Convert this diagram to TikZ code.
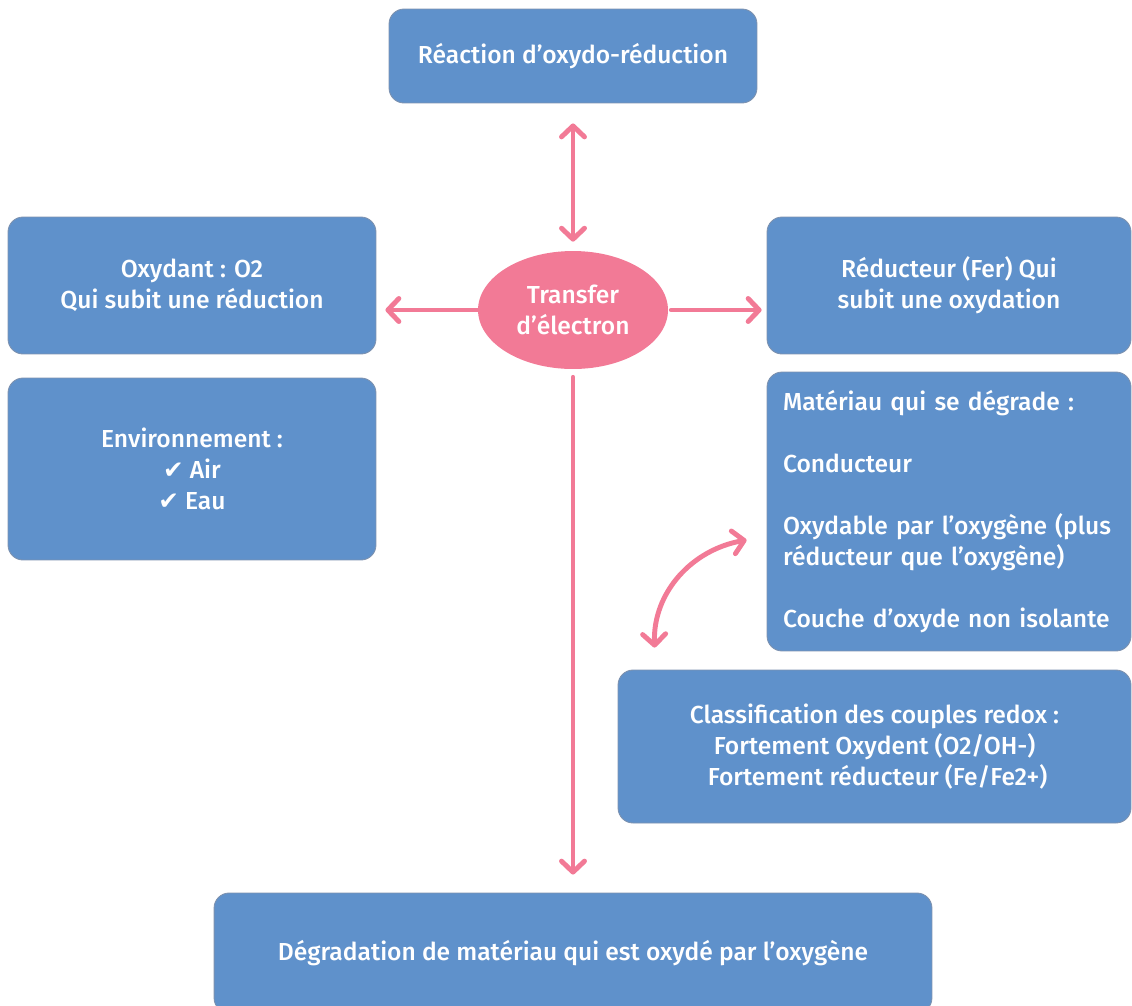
\documentclass[tikz,border=0pt]{standalone}
\usepackage{fontspec}
\IfFontExistsTF{Fira Sans Medium}{\setmainfont{Fira Sans Medium}}{\setmainfont{Fira Sans}}
\newfontfamily\checkfont{DejaVu Sans Bold}
\usetikzlibrary{arrows.meta,shapes.geometric}
\definecolor{boxblue}{RGB}{95,145,203}
\definecolor{boxline}{RGB}{125,145,175}
\definecolor{linkpink}{RGB}{242,122,150}
\newcommand{\chk}{{\checkfont ✔}}
\tikzset{
  box/.style={draw=boxline, line width=0.5pt, fill=boxblue, rounded corners=0.3cm,
    text=white, font=\fontsize{14}{17.6}\selectfont, align=center, inner sep=0pt},
  bubble/.style={ellipse, fill=linkpink, text=white, inner sep=0pt,
    font=\fontsize{14}{17.6}\selectfont, align=center},
  link/.style={draw=linkpink, line width=2.8pt, line cap=round},
  tip/.style={arrows={-Straight Barb[length=0.22cm,width=0.46cm,round]}},
  twotips/.style={arrows={Straight Barb[length=0.22cm,width=0.46cm,round]-Straight Barb[length=0.22cm,width=0.46cm,round]}}
}

\begin{document}
\begin{tikzpicture}[x=0.02cm,y=-0.02cm]
\useasboundingbox (0,0) rectangle (1132,1005);
\clip (0,0) rectangle (1132,1005);

\node[box, minimum width=7.36cm, minimum height=1.88cm] (reaction) at (573,56) {Réaction d’oxydo-réduction};
\node[bubble, minimum width=3.8cm, minimum height=2.36cm] (transfer) at (573,310) {Transfer\\d’électron};

\node[box, minimum width=7.36cm, minimum height=2.74cm] (oxydant) at (192,285.5) {Oxydant : O2\\Qui subit une réduction};
\node[box, minimum width=7.36cm, minimum height=3.64cm] (env) at (192,469) {Environnement :\\\chk{} Air\\\chk{} Eau};

\node[box, minimum width=7.28cm, minimum height=2.74cm] (reducteur) at (949,285.5) {Réducteur (Fer) Qui\\subit une oxydation};
\node[box, minimum width=7.28cm, minimum height=5.58cm, inner xsep=0.32cm, text width=6.64cm, align=left] (mat) at (949,511.5)
  {Matériau qui se dégrade :\\[17.6pt]Conducteur\\[17.6pt]Oxydable par l’oxygène (plus\\réducteur que l’oxygène)\\[17.6pt]Couche d’oxyde non isolante};
\node[box, minimum width=10.26cm, minimum height=3.06cm] (classif) at (874.5,746.5)
  {Classification des couples redox :\\Fortement Oxydent (O2/OH-)\\\ Fortement réducteur (Fe/Fe2+)};

\node[box, minimum width=14.36cm, minimum height=2.4cm] (degrad) at (573,953) {Dégradation de matériau qui est oxydé par l’oxygène};

\draw[link, twotips, shorten <=0.4cm, shorten >=0.18cm] (reaction) -- (transfer);
\draw[link, tip, shorten >=0.18cm] (transfer.west) -- (transfer.west -| oxydant.east);
\draw[link, tip, shorten <=0.06cm, shorten >=0.1cm] (transfer.east) -- (transfer.east -| reducteur.west);
\draw[link, tip, shorten <=0.16cm, shorten >=0.36cm] (transfer) -- (degrad);
\draw[link, twotips] ([shift={(37,-22)}]classif.north west) to[out=92,in=190] ([shift={(-20,28.5)}]mat.west);
\end{tikzpicture}
\end{document}
